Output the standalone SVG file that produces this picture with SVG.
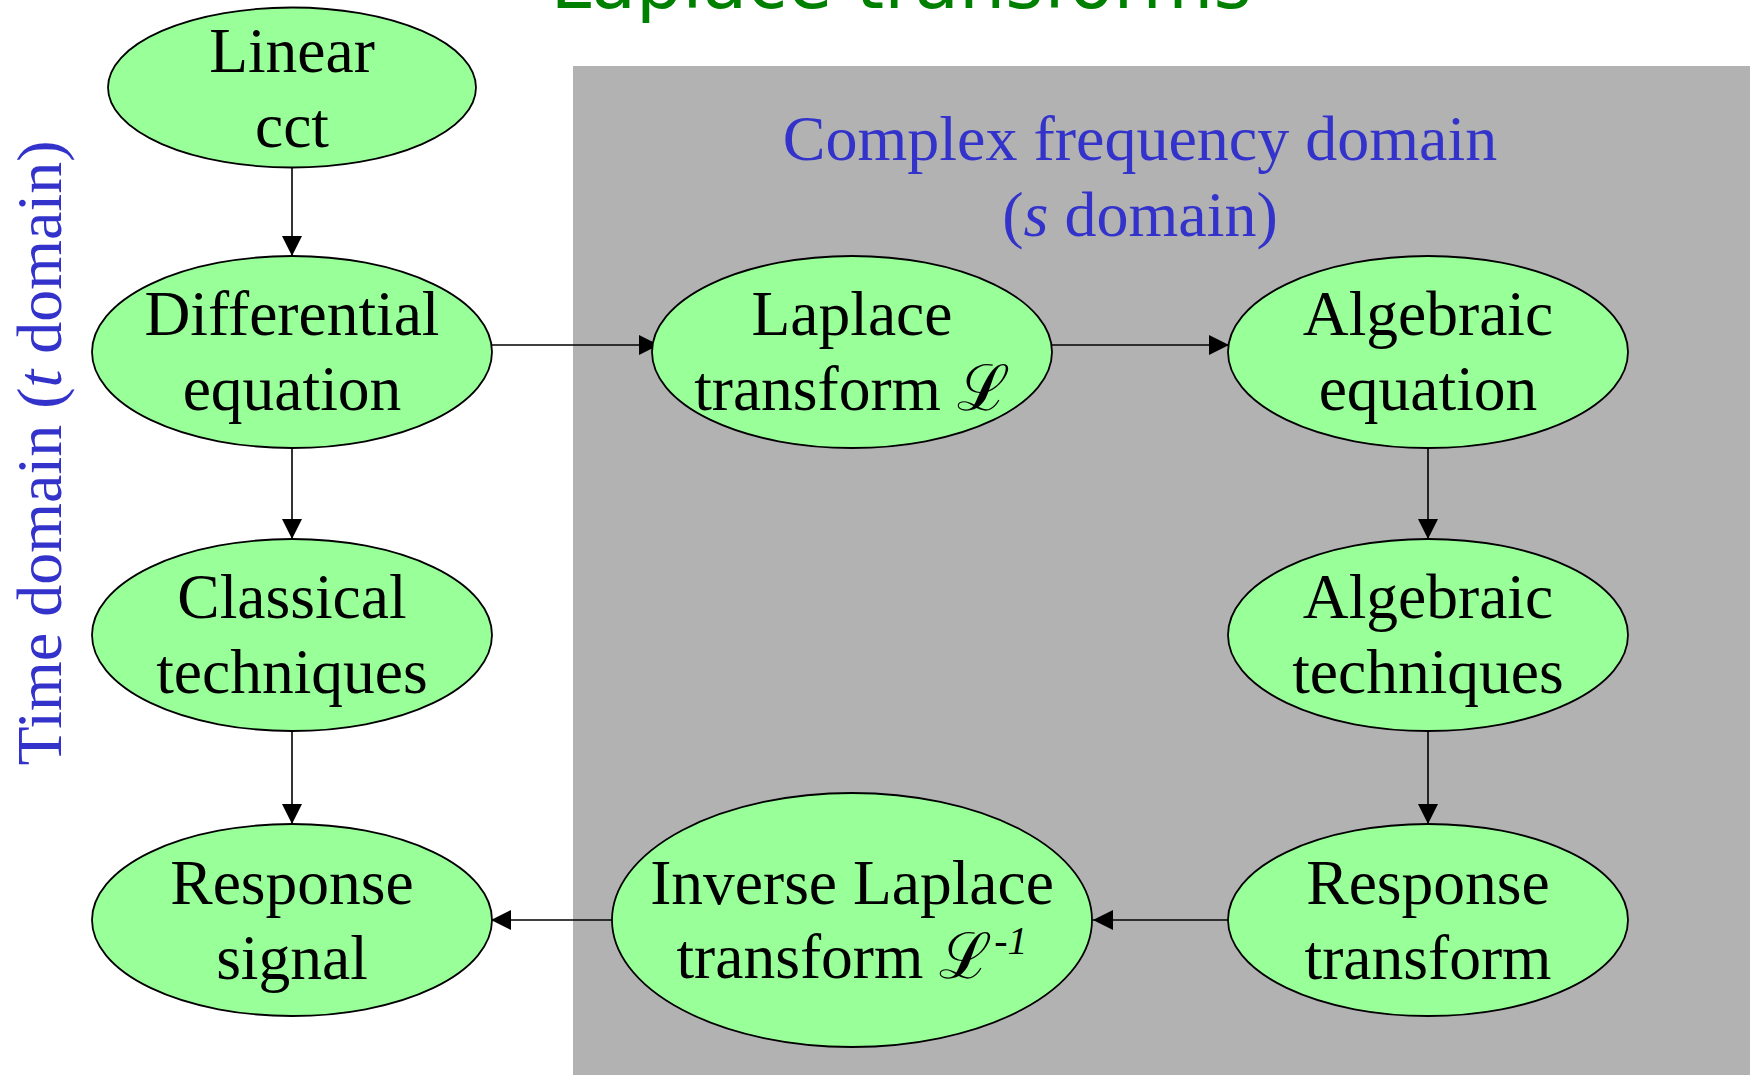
<svg xmlns="http://www.w3.org/2000/svg" width="1750" height="1075" viewBox="0 0 1750 1075">
<style>
.node ellipse{fill:#99ff99;stroke:#000;stroke-width:1.8}
.node text{font-family:"Liberation Serif","Times New Roman",serif;font-size:63.5px;fill:#000;text-anchor:middle}
.blue{font-family:"Liberation Serif","Times New Roman",serif;font-size:64px;fill:#3333cc;text-anchor:middle}
.edge{stroke:#000;stroke-width:1.6;fill:none;marker-end:url(#ah)}
.scr{font-family:"DejaVu Serif","Liberation Serif",serif;font-style:normal}
</style>
<defs>
<marker id="ah" markerUnits="userSpaceOnUse" markerWidth="20" markerHeight="20" refX="20" refY="10" orient="auto">
<path d="M0,0 L20,10 L0,20 z" fill="#000"/>
</marker>
</defs>
<rect width="1750" height="1075" fill="#fff"/>
<rect x="573" y="66" width="1177" height="1009" fill="#b2b2b2"/>
<text x="901" y="8" font-family="DejaVu Sans,Verdana,sans-serif" font-size="73" fill="#008000" text-anchor="middle">Laplace transforms</text>
<text class="blue" x="1140" y="160">Complex frequency domain</text>
<text class="blue" x="1140" y="236">(<tspan font-style="italic">s</tspan> domain)</text>
<text class="blue" transform="translate(61,453) rotate(-90)">Time domain (<tspan font-style="italic">t</tspan> domain)</text>
<g id="connectors">
<line class="edge" x1="292" y1="167" x2="292" y2="256"/>
<line class="edge" x1="292" y1="448" x2="292" y2="539"/>
<line class="edge" x1="292" y1="731" x2="292" y2="824"/>
<line class="edge" x1="487" y1="345" x2="659" y2="345"/>
<line class="edge" x1="1052" y1="345" x2="1229" y2="345"/>
<line class="edge" x1="1428" y1="448" x2="1428" y2="539"/>
<line class="edge" x1="1428" y1="731" x2="1428" y2="824"/>
<line class="edge" x1="1237" y1="920" x2="1093" y2="920"/>
<line class="edge" x1="612" y1="920" x2="491" y2="920"/>
</g>
<g id="linear-cct" class="node"><ellipse cx="292" cy="87.5" rx="184" ry="80"/><text x="292" y="72">Linear</text><text x="292" y="147">cct</text></g>
<g id="differential-equation" class="node"><ellipse cx="292" cy="352" rx="200" ry="96"/><text x="292" y="335">Differential</text><text x="292" y="410">equation</text></g>
<g id="classical-techniques" class="node"><ellipse cx="292" cy="635" rx="200" ry="96"/><text x="292" y="618">Classical</text><text x="292" y="693">techniques</text></g>
<g id="response-signal" class="node"><ellipse cx="292" cy="920" rx="200" ry="96"/><text x="292" y="904">Response</text><text x="292" y="979">signal</text></g>
<g id="laplace-transform" class="node"><ellipse cx="852" cy="352" rx="200" ry="96"/><text x="852" y="335">Laplace</text><text x="852" y="410">transform <tspan class="scr">ℒ</tspan></text></g>
<g id="algebraic-equation" class="node"><ellipse cx="1428" cy="352" rx="200" ry="96"/><text x="1428" y="335">Algebraic</text><text x="1428" y="410">equation</text></g>
<g id="algebraic-techniques" class="node"><ellipse cx="1428" cy="635" rx="200" ry="96"/><text x="1428" y="618">Algebraic</text><text x="1428" y="693">techniques</text></g>
<g id="response-transform" class="node"><ellipse cx="1428" cy="920" rx="200" ry="96"/><text x="1428" y="904">Response</text><text x="1428" y="979">transform</text></g>
<g id="inverse-laplace-transform" class="node"><ellipse cx="852" cy="920" rx="240" ry="127"/><text x="852" y="904">Inverse Laplace</text><text x="852" y="978">transform <tspan class="scr">ℒ</tspan><tspan font-size="40" font-style="italic" dx="2" dy="-24">-1</tspan></text></g>
</svg>
